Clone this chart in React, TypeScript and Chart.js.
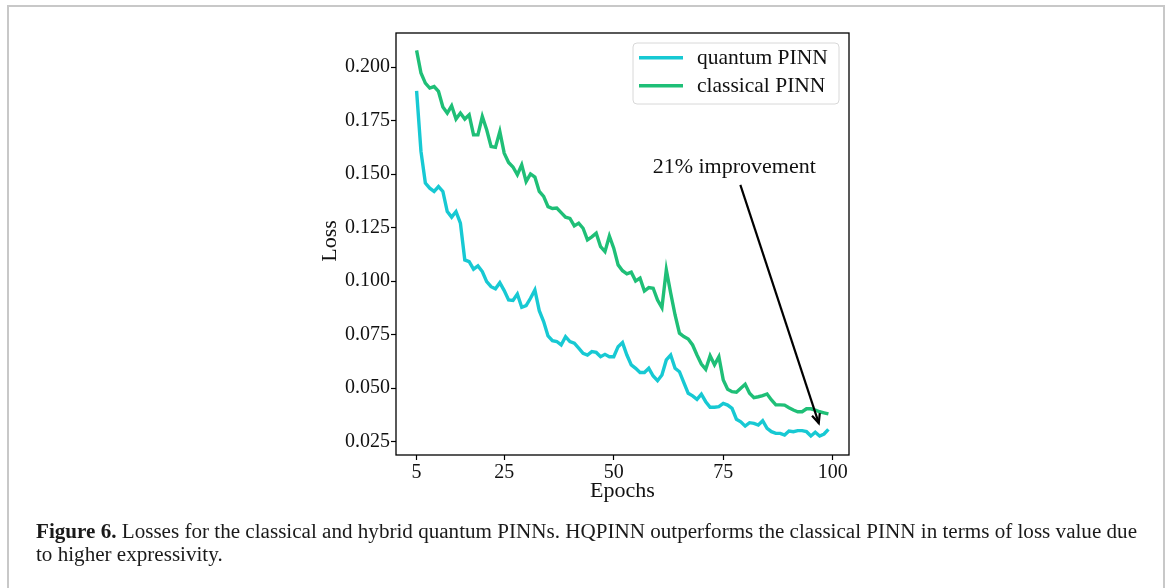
import React, { useEffect, useRef } from "react";
import { Chart, registerables } from "chart.js";

Chart.register(...registerables);

// ---------- data ----------
const epochs = [
  5, 6, 7, 8, 9, 10, 11, 12, 13, 14, 15, 16, 17, 18, 19, 20, 21, 22, 23, 24,
  25, 26, 27, 28, 29, 30, 31, 32, 33, 34, 35, 36, 37, 38, 39, 40, 41, 42, 43, 44,
  45, 46, 47, 48, 49, 50, 51, 52, 53, 54, 55, 56, 57, 58, 59, 60, 61, 62, 63, 64,
  65, 66, 67, 68, 69, 70, 71, 72, 73, 74, 75, 76, 77, 78, 79, 80, 81, 82, 83, 84,
  85, 86, 87, 88, 89, 90, 91, 92, 93, 94, 95, 96, 97, 98, 99,
];

const quantumLoss = [
  0.1889, 0.1606, 0.1458, 0.1434, 0.1419, 0.1442, 0.1419, 0.1325, 0.1299, 0.1325,
  0.1271, 0.1099, 0.1091, 0.1056, 0.1071, 0.1045, 0.0998, 0.0974, 0.0964, 0.0993,
  0.0956, 0.0912, 0.091, 0.094, 0.0878, 0.0886, 0.092, 0.0959, 0.0862, 0.0811,
  0.0744, 0.0722, 0.0718, 0.0702, 0.0741, 0.0718, 0.071, 0.0687, 0.0663, 0.0655,
  0.0671, 0.0667, 0.0647, 0.0658, 0.0647, 0.0647, 0.0694, 0.0713, 0.0655, 0.0609,
  0.0593, 0.0573, 0.0573, 0.0593, 0.0557, 0.0535, 0.0562, 0.0632, 0.0655, 0.0593,
  0.0577, 0.0526, 0.0476, 0.0464, 0.0448, 0.0472, 0.0437, 0.0411, 0.0411, 0.0414,
  0.0429, 0.0421, 0.0406, 0.0355, 0.0343, 0.0323, 0.0339, 0.0336, 0.0328, 0.0348,
  0.0313, 0.0297, 0.0289, 0.0289, 0.0281, 0.03, 0.0297, 0.0302, 0.0302, 0.0297,
  0.0277, 0.0294, 0.0277, 0.0286, 0.0308,
];

const classicalLoss = [
  0.2078, 0.1972, 0.1925, 0.1902, 0.1909, 0.1886, 0.1813, 0.1785, 0.1819, 0.1757,
  0.1785, 0.1757, 0.1777, 0.1683, 0.1683, 0.1769, 0.1707, 0.1629, 0.1625, 0.1699,
  0.1598, 0.1554, 0.1533, 0.1497, 0.1543, 0.1465, 0.1501, 0.1486, 0.1419, 0.1396,
  0.1348, 0.1339, 0.1341, 0.132, 0.1299, 0.1293, 0.1258, 0.1271, 0.1247, 0.1193,
  0.1207, 0.1224, 0.1161, 0.1138, 0.1211, 0.1154, 0.1076, 0.1049, 0.1034, 0.1042,
  0.1001, 0.1014, 0.0954, 0.097, 0.0967, 0.0912, 0.0876, 0.1053, 0.0944, 0.0842,
  0.0757, 0.0741, 0.073, 0.0702, 0.0655, 0.0613, 0.0588, 0.0651, 0.0609, 0.0647,
  0.0538, 0.0495, 0.0484, 0.0481, 0.05, 0.0518, 0.0476, 0.0456, 0.046, 0.0465,
  0.0473, 0.0445, 0.0422, 0.0422, 0.0421, 0.0409, 0.0398, 0.039, 0.039, 0.0404,
  0.0404, 0.0398, 0.039, 0.0385, 0.038,
];

const seriesNames = ["quantum PINN", "classical PINN"];
const xTicks = [5, 25, 50, 75, 100];
const yTicks = [0.025, 0.05, 0.075, 0.1, 0.125, 0.15, 0.175, 0.2];
const xTitle = "Epochs";
const yTitle = "Loss";
const annotationText = "21% improvement";
const annotationTextAt = [77.5, 0.1532];
const arrowFrom = [78.9, 0.145];
const arrowTo = [96.8, 0.0337];

const captionBold = "Figure 6.";
const captionLine1 =
  " Losses for the classical and hybrid quantum PINNs. HQPINN outperforms the classical PINN in terms of loss value due";
const captionLine2 = "to higher expressivity.";

// ---------- styles ----------
const CYAN = "#17c9d3";
const GREEN = "#1fbf77";
const SERIF = '"Liberation Serif", "Times New Roman", serif';

const overlay = {
  id: "overlay",
  afterDatasetsDraw(chart: any) {
    const { ctx, chartArea: a } = chart;
    const xs = chart.scales.x;
    const ys = chart.scales.y;
    ctx.save();

    // spines
    ctx.strokeStyle = "#000";
    ctx.lineWidth = 1.3;
    ctx.strokeRect(a.left, a.top, a.right - a.left, a.bottom - a.top);

    // axis titles
    ctx.fillStyle = "#111";
    ctx.font = `22px ${SERIF}`;
    ctx.textAlign = "center";
    ctx.textBaseline = "alphabetic";
    ctx.fillText(xTitle, (a.left + a.right) / 2, 497);
    ctx.save();
    ctx.translate(336, (a.top + a.bottom) / 2 - 3);
    ctx.rotate(-Math.PI / 2);
    ctx.fillText(yTitle, 0, 0);
    ctx.restore();

    // legend
    const lx = 633, ly = 43, lw = 206, lh = 61, r = 4;
    ctx.beginPath();
    ctx.moveTo(lx + r, ly);
    ctx.lineTo(lx + lw - r, ly);
    ctx.quadraticCurveTo(lx + lw, ly, lx + lw, ly + r);
    ctx.lineTo(lx + lw, ly + lh - r);
    ctx.quadraticCurveTo(lx + lw, ly + lh, lx + lw - r, ly + lh);
    ctx.lineTo(lx + r, ly + lh);
    ctx.quadraticCurveTo(lx, ly + lh, lx, ly + lh - r);
    ctx.lineTo(lx, ly + r);
    ctx.quadraticCurveTo(lx, ly, lx + r, ly);
    ctx.closePath();
    ctx.fillStyle = "rgba(255,255,255,0.85)";
    ctx.fill();
    ctx.strokeStyle = "#d8d8d8";
    ctx.lineWidth = 1;
    ctx.stroke();
    chart.data.datasets.forEach((ds: any, i: number) => {
      const yy = 57.7 + i * 28;
      ctx.strokeStyle = ds.borderColor;
      ctx.lineWidth = 3.4;
      ctx.beginPath();
      ctx.moveTo(639, yy);
      ctx.lineTo(683, yy);
      ctx.stroke();
      ctx.fillStyle = "#111";
      ctx.font = `21.5px ${SERIF}`;
      ctx.textAlign = "left";
      ctx.textBaseline = "middle";
      ctx.fillText(ds.label, 697, yy + 1);
    });

    // annotation
    ctx.fillStyle = "#111";
    ctx.font = `22px ${SERIF}`;
    ctx.textAlign = "center";
    ctx.textBaseline = "middle";
    ctx.fillText(
      annotationText,
      xs.getPixelForValue(annotationTextAt[0]),
      ys.getPixelForValue(annotationTextAt[1])
    );
    const x0 = xs.getPixelForValue(arrowFrom[0]);
    const y0 = ys.getPixelForValue(arrowFrom[1]);
    const x1 = xs.getPixelForValue(arrowTo[0]);
    const y1 = ys.getPixelForValue(arrowTo[1]);
    ctx.strokeStyle = "#000";
    ctx.lineWidth = 2.2;
    ctx.beginPath();
    ctx.moveTo(x0, y0);
    ctx.lineTo(x1, y1);
    ctx.stroke();
    const ang = Math.atan2(y1 - y0, x1 - x0);
    const hl = 10, ha = 0.42;
    ctx.beginPath();
    ctx.moveTo(x1 - hl * Math.cos(ang - ha), y1 - hl * Math.sin(ang - ha));
    ctx.lineTo(x1, y1);
    ctx.lineTo(x1 - hl * Math.cos(ang + ha), y1 - hl * Math.sin(ang + ha));
    ctx.stroke();

    ctx.restore();
  },
};

export default function App() {
  const canvasRef = useRef<HTMLCanvasElement>(null);
  const capRef = useRef<HTMLDivElement>(null);
  const line1Ref = useRef<HTMLSpanElement>(null);

  useEffect(() => {
    const tickFont = { family: SERIF, size: 20 };
    const chart = new Chart(canvasRef.current as HTMLCanvasElement, {
      type: "line",
      data: {
        datasets: [
          {
            label: seriesNames[0],
            data: epochs.map((e, i) => ({ x: e, y: quantumLoss[i] })),
            borderColor: CYAN,
            backgroundColor: CYAN,
            borderWidth: 3.4,
            pointRadius: 0,
            tension: 0,
            fill: false,
          },
          {
            label: seriesNames[1],
            data: epochs.map((e, i) => ({ x: e, y: classicalLoss[i] })),
            borderColor: GREEN,
            backgroundColor: GREEN,
            borderWidth: 3.4,
            pointRadius: 0,
            tension: 0,
            fill: false,
          },
        ],
      },
      options: {
        animation: false,
        responsive: false,
        layout: { padding: { left: 326, right: 318, top: 33, bottom: 93 } },
        plugins: { legend: { display: false }, tooltip: { enabled: false } },
        scales: {
          x: {
            type: "linear",
            min: 0.3,
            max: 103.7,
            afterBuildTicks: (s: any) => {
              s.ticks = xTicks.map((v) => ({ value: v }));
            },
            afterFit: (s: any) => {
              s.height = 40;
            },
            grid: {
              drawOnChartArea: false,
              drawTicks: true,
              tickLength: 5,
              tickColor: "#000",
              tickWidth: 1.2,
            },
            border: { display: false },
            ticks: {
              color: "#111",
              font: tickFont,
              padding: 1,
              autoSkip: false,
              maxRotation: 0,
              callback: (v: any) => String(v),
            },
          },
          y: {
            type: "linear",
            min: 0.0188,
            max: 0.2159,
            afterBuildTicks: (s: any) => {
              s.ticks = yTicks.map((v) => ({ value: v }));
            },
            afterFit: (s: any) => {
              s.width = 70;
            },
            grid: {
              drawOnChartArea: false,
              drawTicks: true,
              tickLength: 5,
              tickColor: "#000",
              tickWidth: 1.2,
            },
            border: { display: false },
            ticks: {
              color: "#111",
              font: tickFont,
              padding: 1,
              autoSkip: false,
              callback: (v: any) => Number(v).toFixed(3),
            },
          },
        },
      },
      plugins: [overlay],
    } as any);
    return () => chart.destroy();
  }, []);

  useEffect(() => {
    const cap = capRef.current;
    const l1 = line1Ref.current;
    if (cap && l1) {
      const w = l1.getBoundingClientRect().width;
      if (w > 0) cap.style.transform = `scaleX(${1101 / w})`;
    }
  }, []);

  return (
    <div
      style={{
        position: "absolute",
        left: 0,
        top: 0,
        width: 1167,
        height: 588,
        overflow: "hidden",
        background: "#fff",
      }}
    >
      <div
        style={{
          position: "absolute",
          left: 7,
          top: 5,
          width: 1154,
          height: 700,
          border: "2px solid #c8c8c8",
        }}
      />
      <canvas
        ref={canvasRef}
        width={1167}
        height={588}
        style={{ position: "absolute", left: 0, top: 0, width: 1167, height: 588 }}
      />
      <div
        ref={capRef}
        style={{
          position: "absolute",
          left: 36,
          top: 520,
          font: `20px ${SERIF}`,
          lineHeight: "23px",
          whiteSpace: "nowrap",
          color: "#1a1a1a",
          transformOrigin: "0 0",
        }}
      >
        <div>
          <span ref={line1Ref}>
            <b>{captionBold}</b>
            {captionLine1}
          </span>
        </div>
        <div>{captionLine2}</div>
      </div>
    </div>
  );
}
